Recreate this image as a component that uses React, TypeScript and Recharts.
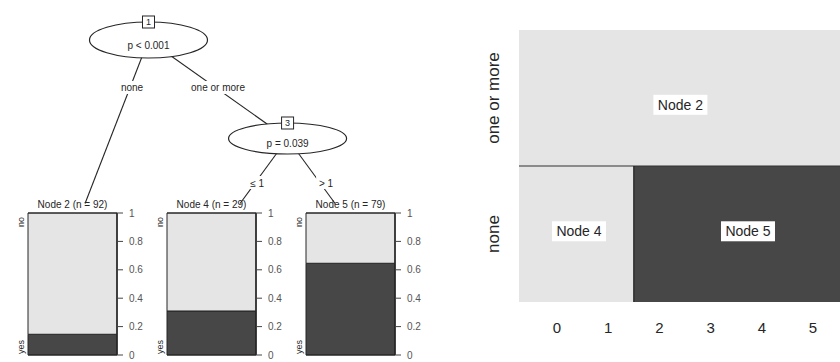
import { BarChart, Bar, XAxis, YAxis, ReferenceLine, ReferenceArea, ScatterChart, Scatter } from 'recharts'

const FONT = '"Liberation Sans", Arial, Helvetica, sans-serif'
const INK = '#262626'
const LIGHT = '#e5e5e5'
const DARK = '#474747'

// ctree inner nodes (x in leaf slots, y in tree depth)
const innerIds = [1, 3]
const innerTests = ['p < 0.001', 'p = 0.039']
const innerX = [0.545, 1.549]
const innerDepth = [0, 1]

// edges
const edgeFrom = [1, 1, 3, 3]
const edgeTo = [2, 3, 4, 5]
const edgeLabels = ['none', 'one or more', '≤ 1', '> 1']
const edgeLabelX = [0.426, 1.047, 1.329, 1.827]
const edgeLabelDepth = [0.487, 0.487, 1.452, 1.452]

// terminal nodes
const terminalIds = [2, 4, 5]
const terminalN = [92, 29, 79]
const terminalYes = [0.146, 0.31, 0.646]
const terminalTopX = [0.087, 1.206, 1.892]
const terminalTopDepth = 1.66
const propTicks = [0, 0.2, 0.4, 0.6, 0.8, 1]
const classLabels = ['yes', 'no']

// partition plot
const partNodes = ['Node 2', 'Node 4', 'Node 5']
const partX = [[-1, 7], [-1, 1.5], [1.5, 7]]
const partRow = [[1, 2], [0, 1], [0, 1]]
const partClass = ['no', 'no', 'yes']
const partLabelX = [2.41, 0.43, 3.73]
const partLabelY = [1.45, 0.52, 0.52]
const rowLabels = ['none', 'one or more']
const xTicks = [0, 1, 2, 3, 4, 5]
const xSplit = 1.5

const nodePos: Record<number, { x: number; y: number }> = {}
innerIds.forEach((id, i) => (nodePos[id] = { x: innerX[i], y: innerDepth[i] }))
terminalIds.forEach((id, i) => (nodePos[id] = { x: terminalTopX[i], y: terminalTopDepth }))

const edges = edgeFrom.map((f, i) => [nodePos[f], nodePos[edgeTo[i]]])
const edgeLabelData = edgeLabels.map((label, i) => ({ x: edgeLabelX[i], y: edgeLabelDepth[i], label }))
const innerData = innerIds.map((id, i) => ({ x: innerX[i], y: innerDepth[i], id, test: innerTests[i] }))

function EmptyShape() {
  return <g />
}

function InnerNode(props: any) {
  const { cx, cy } = props
  const p = props.payload ?? props
  const ry = p.y === 0 ? 18 : 15.5
  return (
    <g>
      <ellipse cx={cx} cy={cy} rx={59} ry={ry} fill="#fff" stroke={INK} strokeWidth={1.2} />
      <rect x={cx - 6} y={cy - ry - 6} width={12} height={12} fill="#fff" stroke={INK} strokeWidth={1} />
      <text x={cx} y={cy - ry + 3.5} textAnchor="middle" fontSize={9} fill={INK}>{p.id}</text>
      <text x={cx} y={cy + 9} textAnchor="middle" fontSize={10} fill={INK}>{p.test}</text>
    </g>
  )
}

function EdgeLabel(props: any) {
  const { cx, cy } = props
  const p = props.payload ?? props
  const w = p.label.length * 5.3 + 4
  return (
    <g>
      <rect x={cx - w / 2} y={cy - 7} width={w} height={13} fill="#fff" />
      <text x={cx} y={cy + 3.5} textAnchor="middle" fontSize={10} fill={INK}>{p.label}</text>
    </g>
  )
}

function TreeChart() {
  return (
    <ScatterChart width={420} height={362} margin={{ top: 0, right: 0, bottom: 0, left: 0 }}>
      <XAxis type="number" dataKey="x" hide domain={[-0.527, 2.505]} allowDataOverflow />
      <YAxis type="number" dataKey="y" hide domain={[-0.406, 3.269]} reversed allowDataOverflow />
      {edges.map((pts, i) => (
        <Scatter
          key={'edge' + i}
          data={pts}
          line={{ stroke: INK, strokeWidth: 1.1 }}
          shape={EmptyShape}
          isAnimationActive={false}
        />
      ))}
      <Scatter data={edgeLabelData} shape={EdgeLabel} isAnimationActive={false} />
      <Scatter data={innerData} shape={InnerNode} isAnimationActive={false} />
    </ScatterChart>
  )
}

// rotated class label at the left of a panel, drawn off the reference line at y=0 / y=1
function ClassLabel(props: any) {
  const vb = props.viewBox || {}
  const top = props.value === classLabels[1]
  const bx = vb.x - 4.5
  const by = top ? vb.y + 4 : vb.y - 1
  return (
    <text x={bx} y={by} transform={`rotate(-90 ${bx} ${by})`} textAnchor={top ? 'end' : 'start'} fontSize={9} fill={INK}>
      {props.value}
    </text>
  )
}

function TerminalPanel({ index }: { index: number }) {
  const data = [{ name: 'Node ' + terminalIds[index], yes: terminalYes[index], no: 1 - terminalYes[index] }]
  return (
    <BarChart width={150} height={162} data={data} margin={{ top: 14, right: 0, bottom: 6, left: 28 }} barCategoryGap={0}>
      <XAxis dataKey="name" hide />
      <YAxis
        orientation="right"
        width={33}
        type="number"
        domain={[0, 1]}
        ticks={propTicks}
        interval={0}
        axisLine={{ stroke: INK, strokeWidth: 1.5 }}
        tickLine={{ stroke: '#444' }}
        tickSize={6}
        tickMargin={6}
        tick={{ fontSize: 10, fill: '#555' }}
      />
      <Bar dataKey="yes" stackId="s" fill={DARK} stroke={INK} strokeWidth={1} isAnimationActive={false} />
      <Bar dataKey="no" stackId="s" fill={LIGHT} stroke={INK} strokeWidth={1} isAnimationActive={false} />
      <ReferenceLine
        y={1}
        stroke={INK}
        label={{ value: `Node ${terminalIds[index]} (n = ${terminalN[index]})`, position: 'top', fontSize: 10, fill: INK, offset: 5 }}
      />
      <ReferenceLine y={1} stroke="none" label={<ClassLabel value={classLabels[1]} />} />
      <ReferenceLine y={0} stroke={INK} label={<ClassLabel value={classLabels[0]} />} />
    </BarChart>
  )
}

function RowTick(props: any) {
  const { x, y, payload } = props
  const bx = x - 20
  return (
    <text x={bx} y={y} transform={`rotate(-90 ${bx} ${y})`} textAnchor="middle" fontSize={17} fill={INK}>
      {rowLabels[Math.floor(payload.value)]}
    </text>
  )
}

function PartLabel(props: any) {
  const { cx, cy } = props
  const p = props.payload ?? props
  const w = p.label.length * 8 + 6
  return (
    <g>
      <rect x={cx - w / 2} y={cy - 10} width={w} height={20} fill="#fff" />
      <text x={cx} y={cy + 5} textAnchor="middle" fontSize={14} fill={INK}>{p.label}</text>
    </g>
  )
}

function PartitionChart() {
  const labels = partNodes.map((label, i) => ({ x: partLabelX[i], y: partLabelY[i], label }))
  return (
    <ScatterChart width={360} height={362} margin={{ top: 30, right: 0, bottom: 0, left: 0 }}>
      <XAxis
        type="number"
        dataKey="x"
        domain={[-0.742, 5.527]}
        allowDataOverflow
        ticks={xTicks}
        interval={0}
        height={60}
        axisLine={false}
        tickLine={false}
        tickSize={0}
        tickMargin={20}
        tick={{ fontSize: 15, fill: INK }}
      />
      <YAxis
        type="number"
        dataKey="y"
        domain={[0, 2]}
        allowDataOverflow
        ticks={rowLabels.map((_, i) => i + 0.5)}
        interval={0}
        width={39}
        axisLine={false}
        tickLine={false}
        tickSize={0}
        tickMargin={0}
        tick={<RowTick />}
      />
      {partNodes.map((n, i) => (
        <ReferenceArea
          key={n}
          x1={partX[i][0]}
          x2={partX[i][1]}
          y1={partRow[i][0]}
          y2={partRow[i][1]}
          fill={partClass[i] === 'yes' ? DARK : LIGHT}
          fillOpacity={1}
          stroke="none"
          ifOverflow="hidden"
        />
      ))}
      <ReferenceLine y={1} stroke="#333" strokeWidth={1.2} ifOverflow="hidden" />
      <ReferenceLine segment={[{ x: xSplit, y: 0 }, { x: xSplit, y: 1 }]} stroke="#222" strokeWidth={1.2} ifOverflow="hidden" />
      <Scatter data={labels} shape={PartLabel} isAnimationActive={false} />
    </ScatterChart>
  )
}

export default function App() {
  return (
    <div style={{ position: 'absolute', left: 0, top: 0, width: 840, height: 362, background: '#fff', fontFamily: FONT, overflow: 'hidden' }}>
      <div style={{ position: 'absolute', left: 0, top: 0 }}>
        <TreeChart />
      </div>
      {terminalIds.map((id, i) => (
        <div key={id} style={{ position: 'absolute', left: [0, 139, 278][i], top: 199 }}>
          <TerminalPanel index={i} />
        </div>
      ))}
      <div style={{ position: 'absolute', left: 480, top: 0 }}>
        <PartitionChart />
      </div>
    </div>
  )
}
